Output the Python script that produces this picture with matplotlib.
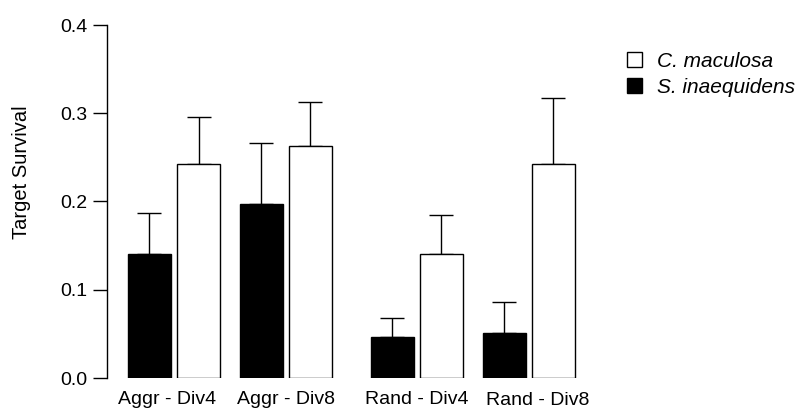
import matplotlib
matplotlib.use("Agg")
import matplotlib.pyplot as plt
from matplotlib.patches import Patch

plt.rcParams["font.family"] = ["Liberation Sans", "DejaVu Sans"]

# Target survival per treatment, mean and upper error (SE)
groups = ["Aggr - Div4", "Aggr - Div8", "Rand - Div4", "Rand - Div8"]
species = ["C. maculosa", "S. inaequidens"]
maculosa_mean = [0.243, 0.263, 0.141, 0.242]
maculosa_err = [0.053, 0.050, 0.044, 0.075]
inaequidens_mean = [0.141, 0.197, 0.047, 0.051]
inaequidens_err = [0.046, 0.069, 0.021, 0.035]

# group centres in bar-width units (wider gap between Aggr and Rand)
group_pos = [0.0, 2.6, 5.65, 8.25]
label_shift = [-0.17, 0.0, 0.0, 0.21]
label_drop = [0.0, 0.0, 0.0, 0.002]
off = 0.57
width = 1.0

fig = plt.figure(figsize=(8.06, 4.11), dpi=100)
ax = fig.add_axes([107 / 806, 1 - 378 / 411, 500 / 806, (378 - 25) / 411])

x_black = [p - off for p in group_pos]
x_white = [p + off for p in group_pos]

ax.bar(x_black, inaequidens_mean, width=width, color="black",
       edgecolor="black", linewidth=1, zorder=2)
ax.bar(x_white, maculosa_mean, width=width, color="white",
       edgecolor="black", linewidth=1, zorder=2)

for xs, means, errs in [(x_black, inaequidens_mean, inaequidens_err),
                        (x_white, maculosa_mean, maculosa_err)]:
    ax.errorbar(xs, means, yerr=[[0] * len(errs), errs], fmt="none",
                ecolor="black", elinewidth=1, capsize=8.3, capthick=1, zorder=1)

ax.set_xlim(-1.558, -1.558 + 500 / 43)
ax.set_ylim(0, 0.4)
ax.set_yticks([0.0, 0.1, 0.2, 0.3, 0.4])
ax.set_yticklabels(["0.0", "0.1", "0.2", "0.3", "0.4"])
ax.set_xticks([])
ax.tick_params(axis="y", direction="out", length=10, width=1, pad=4, labelsize=14)

# group labels sit under each pair, slightly staggered
for p, s, d, name in zip(group_pos, label_shift, label_drop, groups):
    ax.text(p + s, -0.024 - d, name, ha="center", va="center", fontsize=14,
            transform=ax.transData, clip_on=False)

for side in ["top", "right", "bottom"]:
    ax.spines[side].set_visible(False)
ax.spines["left"].set_linewidth(1)

fig.text(22 / 806, 1 - 172 / 411, "Target Survival", rotation=90,
         ha="center", va="center", fontsize=14.5)

handles = [Patch(facecolor="white", edgecolor="black", linewidth=1),
           Patch(facecolor="black", edgecolor="black", linewidth=1)]
fig.legend(handles, species, loc="upper left", bbox_to_anchor=(608 / 806, 1 - 33 / 411),
           frameon=False, handlelength=0.75, handleheight=0.75, handletextpad=0.7,
           labelspacing=0.35, prop={"style": "italic", "size": 15})

fig.savefig("out.png", dpi=100)
